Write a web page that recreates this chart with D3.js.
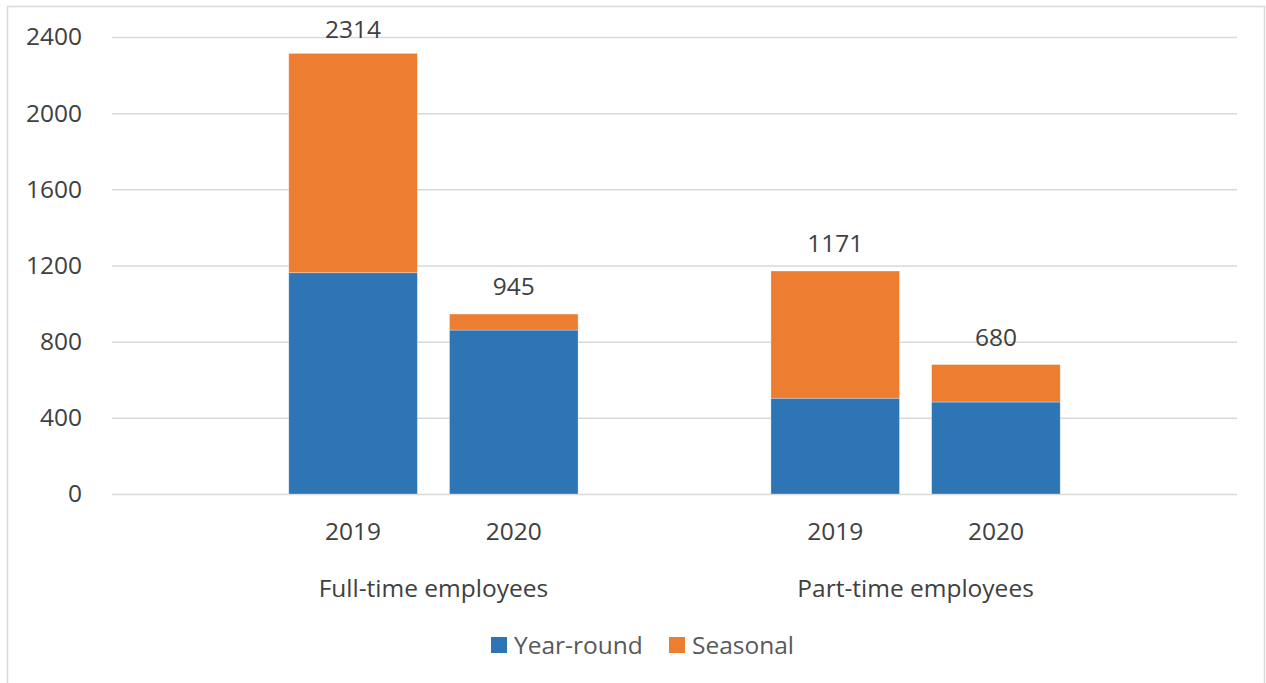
<!DOCTYPE html>
<html>
<head>
<meta charset="utf-8">
<script src="https://cdn.jsdelivr.net/npm/d3@7"></script>
<style>
  html, body { margin: 0; padding: 0; background: #fff; }
  svg { display: block; }
  text { font-family: "Open Sans", "Noto Sans", sans-serif; }
</style>
</head>
<body>
<svg id="chart" width="1266" height="683"></svg>
<script>
// Employees by contract type, split into year-round and seasonal staff
const groups = ["Full-time employees", "Part-time employees"];
const years = ["2019", "2020"];
const yearRound = [[1162, 861], [503, 483]];
const seasonal = [[1152, 84], [668, 197]];
const totals = [[2314, 945], [1171, 680]];
const yTicks = [0, 400, 800, 1200, 1600, 2000, 2400];
const seriesNames = ["Year-round", "Seasonal"];
const seriesColors = ["#2E75B6", "#ED7D31"];

const FONT = "24.5px";
const svg = d3.select("#chart");
const W = 1266, H = 683;
const plot = { left: 112, right: 1237, top: 37, bottom: 494 };

// outer frame
svg.append("rect")
  .attr("x", 7.5).attr("y", 6.5)
  .attr("width", W - 9).attr("height", H)
  .attr("fill", "none").attr("stroke", "#d9d9d9").attr("stroke-width", 1.5);

// category slots: an empty slot before each group and one after the last
const slots = [];
const bars = [];
groups.forEach((g, gi) => {
  slots.push("gap-" + gi);
  years.forEach((yr, yi) => {
    const key = g + "|" + yr;
    slots.push(key);
    bars.push({ key, group: gi, year: yr, yearRound: yearRound[gi][yi], seasonal: seasonal[gi][yi], total: totals[gi][yi] });
  });
});
slots.push("gap-end");

const x = d3.scaleBand().domain(slots).range([plot.left, plot.right]).paddingInner(0.2).paddingOuter(0.1);
const y = d3.scaleLinear().domain([0, 2400]).range([plot.bottom, plot.top]);

// gridlines + y axis labels
const yAxis = d3.axisLeft(y).tickValues(yTicks).tickFormat(d3.format("d"))
  .tickSize(-(plot.right - plot.left)).tickPadding(30);
const gy = svg.append("g").attr("transform", `translate(${plot.left},0)`).call(yAxis);
gy.select(".domain").remove();
gy.selectAll(".tick line").attr("stroke", "#d9d9d9").attr("stroke-width", 1.5);
gy.selectAll(".tick text").attr("fill", "#404040").style("font-size", FONT).attr("font-family", null);

// stacked bars
const stack = svg.append("g");
bars.forEach(b => {
  stack.append("rect")
    .attr("x", x(b.key)).attr("width", x.bandwidth())
    .attr("y", y(b.yearRound)).attr("height", y(0) - y(b.yearRound))
    .attr("fill", seriesColors[0]).attr("stroke", "#ffffff").attr("stroke-opacity", 0.4).attr("stroke-width", 0.75);
  stack.append("rect")
    .attr("x", x(b.key)).attr("width", x.bandwidth())
    .attr("y", y(b.yearRound + b.seasonal)).attr("height", y(b.yearRound) - y(b.yearRound + b.seasonal))
    .attr("fill", seriesColors[1]).attr("stroke", "#ffffff").attr("stroke-opacity", 0.4).attr("stroke-width", 0.75);
  // total label above the stack, kept inside the plot area
  svg.append("text")
    .attr("x", x(b.key) + x.bandwidth() / 2)
    .attr("y", Math.max(y(b.total) - 19, plot.top + 1))
    .attr("text-anchor", "middle")
    .attr("fill", "#404040").style("font-size", FONT)
    .text(b.total);
  // year label
  svg.append("text")
    .attr("x", x(b.key) + x.bandwidth() / 2)
    .attr("y", 540)
    .attr("text-anchor", "middle")
    .attr("fill", "#404040").style("font-size", FONT)
    .text(b.year);
});

// group labels, centred under their bars
groups.forEach((g, gi) => {
  const keys = years.map(yr => g + "|" + yr);
  const cx = (x(keys[0]) + x(keys[keys.length - 1]) + x.bandwidth()) / 2;
  svg.append("text")
    .attr("x", cx).attr("y", 597)
    .attr("text-anchor", "middle")
    .attr("fill", "#404040").style("font-size", FONT)
    .text(g);
});

// legend
const legend = svg.append("g");
const legendX = [491, 669];
seriesNames.forEach((name, i) => {
  legend.append("rect")
    .attr("x", legendX[i]).attr("y", 637)
    .attr("width", 16).attr("height", 16)
    .attr("fill", seriesColors[i]);
  legend.append("text")
    .attr("x", legendX[i] + 23).attr("y", 654)
    .attr("fill", "#595959").style("font-size", FONT)
    .text(name);
});
</script>
</body>
</html>
